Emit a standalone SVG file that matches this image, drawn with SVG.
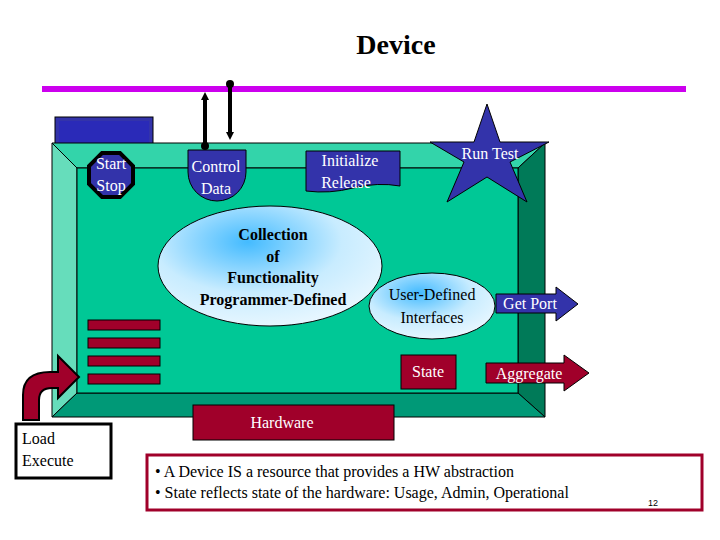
<svg xmlns="http://www.w3.org/2000/svg" width="720" height="540" viewBox="0 0 720 540">
<defs>
<style>
.t{font-family:"Liberation Serif",serif;font-size:16px;fill:#000}
.w{font-family:"Liberation Serif",serif;font-size:16px;fill:#fff}
.b{font-family:"Liberation Serif",serif;font-size:16px;font-weight:bold;fill:#000}
.blue{fill:#3333aa;stroke:#000;stroke-width:1}
.red{fill:#a0002a;stroke:#000;stroke-width:1}
</style>
<radialGradient id="g" cx="0.4" cy="0.3" r="0.7">
<stop offset="0" stop-color="#44bbff"/><stop offset="0.6" stop-color="#c8ecff"/><stop offset="1" stop-color="#e6f6ff"/>
</radialGradient>
<marker id="ah" markerWidth="8" markerHeight="8" refX="4" refY="4" orient="auto" markerUnits="userSpaceOnUse"><path d="M0,0 L8,4 L0,8 z" fill="#000"/></marker>
</defs>
<rect width="720" height="540" fill="#fff"/>
<text x="396" y="54" text-anchor="middle" style="font-family:'Liberation Serif',serif;font-size:28px;font-weight:bold">Device</text>
<rect x="42" y="86" width="644" height="6" fill="#cc00ee"/>
<g id="tab"><rect x="55" y="117" width="98" height="27" fill="#3333aa" stroke="#000"/><rect x="59" y="121" width="90" height="22" fill="#2a2ab8"/></g>
<g id="device">
<polygon points="52,143 545,143 518,168 77,168" fill="#33d4aa" stroke="#000"/>
<polygon points="52,143 77,168 77,393 52,417" fill="#66ddbb" stroke="#000"/>
<polygon points="545,143 545,417 518,393 518,168" fill="#007a58" stroke="#000"/>
<polygon points="52,417 77,393 518,393 545,417" fill="#009977" stroke="#000"/>
<rect x="77" y="168" width="441" height="225" fill="#00c896" stroke="#000"/>
</g>
<g id="connectors">
<line x1="205" y1="143" x2="205" y2="96" stroke="#000" stroke-width="4" marker-end="url(#ah)"/>
<line x1="230" y1="84" x2="230" y2="136" stroke="#000" stroke-width="4" marker-end="url(#ah)"/>
<circle cx="230" cy="84" r="4" fill="#000"/>
<circle cx="205" cy="146" r="4" fill="#000"/>
</g>
<g id="startstop"><polygon points="102,153 120,153 133,166 133,184 120,197 102,197 89,184 89,166" class="blue" stroke-width="4" style="stroke-width:4"/>
<text x="111" y="169" class="w" text-anchor="middle">Start</text><text x="111" y="191" class="w" text-anchor="middle">Stop</text></g>
<g id="controldata"><path d="M188,150 H246 V172 A29,29 0 0 1 188,172 Z" class="blue"/>
<text x="216" y="172" class="w" text-anchor="middle">Control</text><text x="216" y="194" class="w" text-anchor="middle">Data</text></g>
<g id="init"><path d="M306,151 H400 V186 Q378,182 353,188 Q330,194 306,191 Z" class="blue"/>
<text x="350" y="166" class="w" text-anchor="middle">Initialize</text><text x="346" y="188" class="w" text-anchor="middle">Release</text></g>
<g id="runtest"><polygon points="487,104 500,142 549,142 510,162 527,202 487,177 447,202 464,162 430,142 474,142" class="blue"/>
<text x="490" y="159" class="w" text-anchor="middle">Run Test</text></g>
<g id="collection"><ellipse cx="270" cy="266" rx="112" ry="60" fill="url(#g)" stroke="#000"/>
<text x="273" y="240" class="b" text-anchor="middle">Collection</text><text x="273" y="262" class="b" text-anchor="middle">of</text>
<text x="273" y="283" class="b" text-anchor="middle">Functionality</text><text x="273" y="305" class="b" text-anchor="middle">Programmer-Defined</text></g>
<g id="userdef"><ellipse cx="432" cy="306" rx="63" ry="33" fill="url(#g)" stroke="#000"/>
<text x="432" y="300" class="t" text-anchor="middle">User-Defined</text><text x="432" y="323" class="t" text-anchor="middle">Interfaces</text></g>
<g id="getport"><polygon points="496,294 556,294 556,287 578,304 556,321 556,313 496,313" class="blue"/>
<text x="530" y="309" class="w" text-anchor="middle">Get Port</text></g>
<g id="state"><rect x="401" y="355" width="55" height="34" class="red"/><text x="428" y="377" class="w" text-anchor="middle">State</text></g>
<g id="aggregate"><polygon points="486,363 564,363 564,355 589,373 564,391 564,383 486,383" class="red"/>
<text x="529" y="379" class="w" text-anchor="middle">Aggregate</text></g>
<g id="bars">
<rect x="88" y="320" width="72" height="10" class="red"/><rect x="88" y="338" width="72" height="10" class="red"/>
<rect x="88" y="356" width="72" height="10" class="red"/><rect x="88" y="374" width="72" height="10" class="red"/></g>
<g id="hardware"><rect x="193" y="405" width="201" height="35" class="red"/><text x="282" y="428" class="w" text-anchor="middle">Hardware</text></g>
<g id="loadarrow"><path d="M23,420 V395 Q23,372 50,372 H58 V356 L79,377 L58,398 V388 H52 Q39,388 39,400 V420 Z" fill="#a0002a" stroke="#000" stroke-width="2"/></g>
<g id="load"><rect x="16" y="424" width="95" height="54" fill="#fff" stroke="#000" stroke-width="3"/>
<text x="22" y="444" class="t">Load</text><text x="22" y="466" class="t">Execute</text></g>
<g id="note"><rect x="147" y="455" width="555" height="55" fill="#fff" stroke="#a0002a" stroke-width="3"/>
<text x="155" y="477" class="t">•  A Device IS a resource that provides a HW abstraction</text>
<text x="155" y="498" class="t">•  State reflects state of the hardware: Usage, Admin, Operational</text></g>
<text x="648" y="506" style="font-family:'Liberation Sans',sans-serif;font-size:9px">12</text>
</svg>
